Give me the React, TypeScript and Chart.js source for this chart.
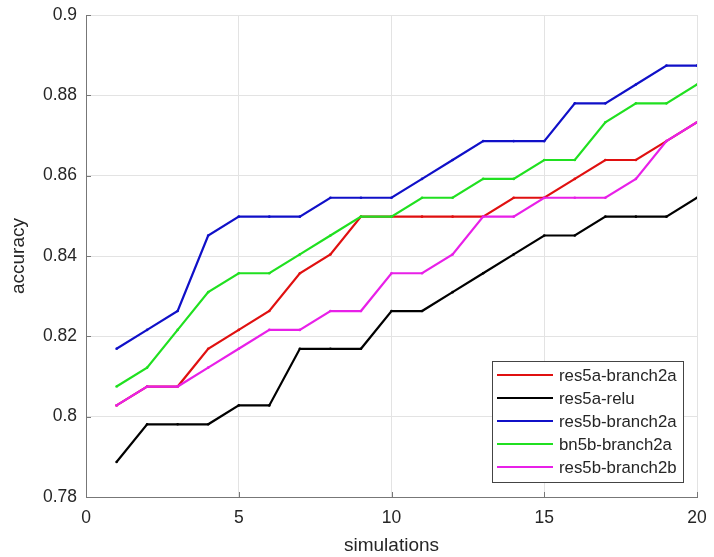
import React, { useEffect, useRef } from "react";
import { Chart, registerables } from "chart.js";

Chart.register(...registerables);

const simulations = [1, 2, 3, 4, 5, 6, 7, 8, 9, 10, 11, 12, 13, 14, 15, 16, 17, 18, 19, 20];

const res5aBranch2a = [0.8028, 0.8075, 0.8075, 0.8169, 0.8216, 0.8263, 0.8357, 0.8404, 0.8498, 0.8498, 0.8498, 0.8498, 0.8498, 0.8545, 0.8545, 0.8592, 0.8639, 0.8639, 0.8686, 0.8733];
const res5aRelu = [0.7887, 0.7981, 0.7981, 0.7981, 0.8028, 0.8028, 0.8169, 0.8169, 0.8169, 0.8263, 0.8263, 0.8310, 0.8357, 0.8404, 0.8451, 0.8451, 0.8498, 0.8498, 0.8498, 0.8545];
const res5bBranch2a = [0.8169, 0.8216, 0.8263, 0.8451, 0.8498, 0.8498, 0.8498, 0.8545, 0.8545, 0.8545, 0.8592, 0.8639, 0.8686, 0.8686, 0.8686, 0.8780, 0.8780, 0.8827, 0.8874, 0.8874];
const bn5bBranch2a = [0.8075, 0.8122, 0.8216, 0.8310, 0.8357, 0.8357, 0.8404, 0.8451, 0.8498, 0.8498, 0.8545, 0.8545, 0.8592, 0.8592, 0.8639, 0.8639, 0.8733, 0.8780, 0.8780, 0.8827];
const res5bBranch2b = [0.8028, 0.8075, 0.8075, 0.8122, 0.8169, 0.8216, 0.8216, 0.8263, 0.8263, 0.8357, 0.8357, 0.8404, 0.8498, 0.8498, 0.8545, 0.8545, 0.8545, 0.8592, 0.8686, 0.8733];

const seriesLabels = ["res5a-branch2a", "res5a-relu", "res5b-branch2a", "bn5b-branch2a", "res5b-branch2b"];
const seriesValues = [res5aBranch2a, res5aRelu, res5bBranch2a, bn5bBranch2a, res5bBranch2b];
const seriesColors = ["#e01010", "#000000", "#1010c8", "#20e020", "#e820e8"];

const xTicks = [0, 5, 10, 15, 20];
const yTicks = [0.78, 0.8, 0.82, 0.84, 0.86, 0.88, 0.9];

const FONT = "'Liberation Sans', Arial, sans-serif";

const insideTicksAndLegend = {
  id: "insideTicksAndLegend",
  afterDraw(chart: any) {
    const { ctx, chartArea, scales } = chart;
    const xs = scales.x;
    const ys = scales.y;
    ctx.save();
    ctx.strokeStyle = "#777777";
    ctx.lineWidth = 1;
    ctx.beginPath();
    for (const v of yTicks) {
      const y = Math.round(ys.getPixelForValue(v)) + 0.5;
      ctx.moveTo(chartArea.left, y);
      ctx.lineTo(chartArea.left + 5, y);
    }
    for (const v of xTicks) {
      const x = Math.round(xs.getPixelForValue(v)) + 0.5;
      ctx.moveTo(x, chartArea.bottom);
      ctx.lineTo(x, chartArea.bottom - 5);
    }
    ctx.stroke();

    // legend box inside plot (bottom-right)
    const w = 191;
    const h = 121;
    const bx = chartArea.right - 14 - w;
    const by = chartArea.bottom - 15 - h;
    ctx.fillStyle = "#ffffff";
    ctx.fillRect(bx, by, w, h);
    ctx.strokeStyle = "#444444";
    ctx.strokeRect(Math.round(bx) + 0.5, Math.round(by) + 0.5, w, h);
    ctx.font = `16.8px ${FONT}`;
    ctx.textBaseline = "middle";
    ctx.textAlign = "left";
    chart.data.datasets.forEach((ds: any, i: number) => {
      const cy = by + 14 + i * 23;
      ctx.strokeStyle = ds.borderColor;
      ctx.lineWidth = 2;
      ctx.beginPath();
      ctx.moveTo(bx + 5, cy);
      ctx.lineTo(bx + 61, cy);
      ctx.stroke();
      ctx.fillStyle = "#262626";
      ctx.fillText(ds.label, bx + 67, cy + 1);
    });
    ctx.restore();
  },
};

export default function App() {
  const ref = useRef<HTMLCanvasElement>(null);

  useEffect(() => {
    if (!ref.current) return;
    const n = seriesLabels.length;
    const chart = new Chart(ref.current, {
      type: "line",
      data: {
        datasets: seriesLabels.map((label, i) => ({
          label,
          data: simulations.map((s, j) => ({ x: s, y: seriesValues[i][j] })),
          borderColor: seriesColors[i],
          backgroundColor: seriesColors[i],
          borderWidth: 2.2,
          pointRadius: 1.3,
          pointBorderWidth: 0,
          pointBackgroundColor: seriesColors[i],
          tension: 0,
          fill: false,
          order: n - 1 - i,
        })),
      },
      options: {
        animation: false,
        responsive: false,
        maintainAspectRatio: false,
        devicePixelRatio: 1,
        layout: { padding: { top: 15, right: 17, left: 0, bottom: 0 } },
        plugins: { legend: { display: false }, tooltip: { enabled: false } },
        scales: {
          x: {
            type: "linear",
            min: 0,
            max: 20,
            afterBuildTicks: (scale: any) => {
              scale.ticks = xTicks.map((v) => ({ value: v }));
            },
            afterFit: (scale: any) => {
              scale.height = 60;
              scale.paddingLeft = 0;
              scale.paddingRight = 0;
            },
            grid: { color: "#e3e3e3", drawTicks: false, lineWidth: 1 },
            border: { display: true, color: "#777777", width: 1 },
            ticks: {
              color: "#262626",
              font: { family: FONT, size: 17.5 },
              padding: 11,
              maxRotation: 0,
              callback: (v: any) => String(v),
            },
            title: {
              display: true,
              text: "simulations",
              color: "#262626",
              font: { family: FONT, size: 19 },
              padding: { top: 1, bottom: 0 },
            },
          },
          y: {
            type: "linear",
            min: 0.78,
            max: 0.9,
            afterBuildTicks: (scale: any) => {
              scale.ticks = yTicks.map((v) => ({ value: v }));
            },
            afterFit: (scale: any) => {
              scale.width = 86;
              scale.paddingTop = 0;
              scale.paddingBottom = 0;
            },
            grid: { color: "#e3e3e3", drawTicks: false, lineWidth: 1 },
            border: { display: true, color: "#777777", width: 1 },
            ticks: {
              color: "#262626",
              font: { family: FONT, size: 17.5 },
              padding: 9,
              callback: (v: any) => String(Number(Number(v).toFixed(2))),
            },
            title: {
              display: true,
              text: "accuracy",
              color: "#262626",
              font: { family: FONT, size: 19 },
              padding: { top: 7, bottom: 0 },
            },
          },
        },
      },
      plugins: [insideTicksAndLegend],
    });
    return () => chart.destroy();
  }, []);

  return (
    <div style={{ position: "fixed", left: 0, top: 0, width: 714, height: 557, background: "#fff" }}>
      <canvas ref={ref} width={714} height={557} style={{ width: 714, height: 557 }} />
    </div>
  );
}
